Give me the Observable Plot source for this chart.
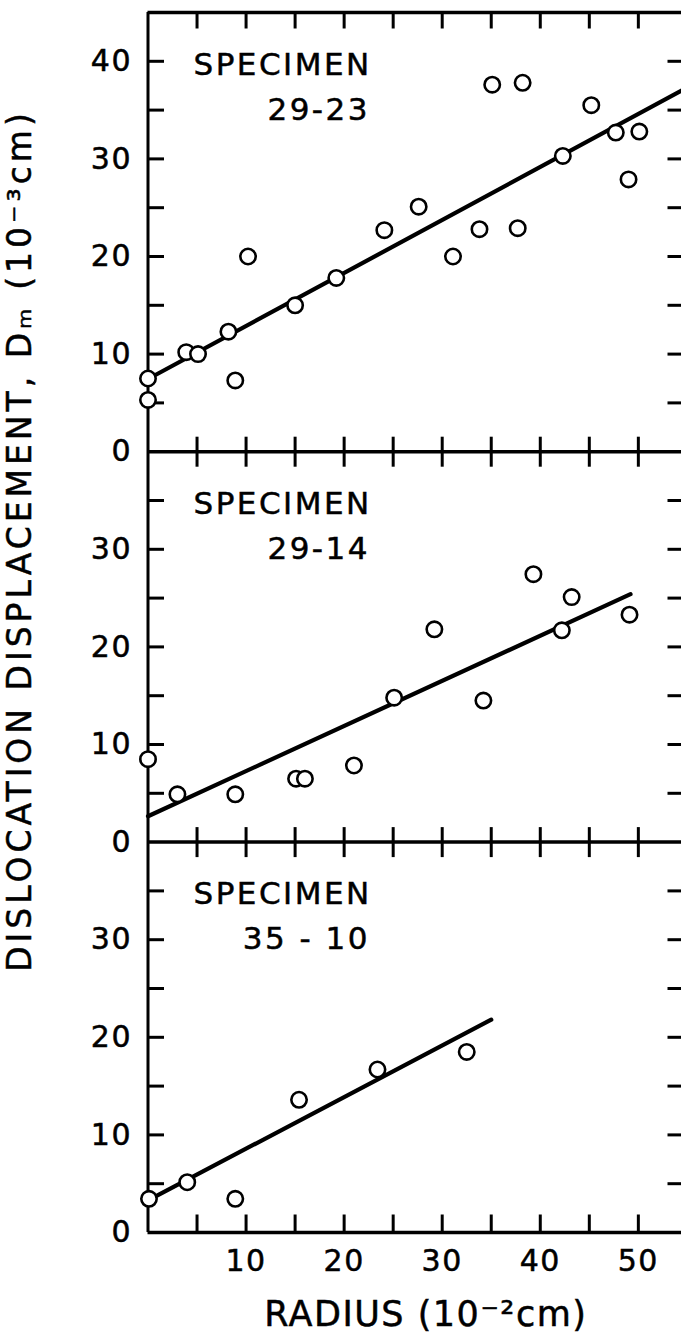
<!DOCTYPE html>
<html><head><meta charset="utf-8">
<script src="https://cdn.jsdelivr.net/npm/d3@7"></script>
<script src="https://cdn.jsdelivr.net/npm/@observablehq/plot@0.6"></script>
<style>
body{margin:0;background:#fff;}
#chart text{letter-spacing:1.5px;stroke:#000;stroke-width:0.5px;}
#chart g.spec text{letter-spacing:2.5px;}
#chart g.xtitle text{letter-spacing:1.5px;}
#chart g.ytitle text{letter-spacing:4px;}
</style></head><body><div id="chart"></div>
<script>
// ---- data ----
const specimens = ["29-23", "29-14", "35-10"];
const specimenLabels = ["29-23", "29-14", "35 - 10"];
const panelMax = [45, 40, 40];          // y-axis top of each panel (10^-3 cm)
const xTickLabels = [10, 20, 30, 40, 50];
const xTicks = [5, 10, 15, 20, 25, 30, 35, 40, 45, 50];
const yTickLabels = [0, 10, 20, 30, 40];
const xMax = 54.4;

// specimen 29-23
const radius2923 = [0, 0, 3.9, 5.1, 8.2, 8.9, 10.2, 15.0, 19.2, 24.1, 27.6, 31.1, 33.8, 35.1, 37.7, 38.2, 42.3, 45.2, 47.7, 49.0, 50.1];
const disp2923   = [7.5, 5.3, 10.2, 10.0, 12.3, 7.3, 20.0, 15.0, 17.8, 22.7, 25.1, 20.0, 22.8, 37.6, 22.9, 37.8, 30.3, 35.5, 32.7, 27.9, 32.8];
const fitRadius2923 = [0, 54.4];
const fitDisp2923   = [7.45, 37.0];
// specimen 29-14
const radius2914 = [0, 3.0, 8.9, 15.1, 16.0, 21.0, 25.1, 29.2, 34.2, 39.3, 42.2, 43.2, 49.1];
const disp2914   = [8.5, 4.9, 4.9, 6.5, 6.5, 7.85, 14.8, 21.8, 14.5, 27.45, 21.7, 25.1, 23.3];
const fitRadius2914 = [0, 49.2];
const fitDisp2914   = [2.65, 25.4];
// specimen 35-10
const radius3510 = [0.1, 4.0, 8.9, 15.4, 23.4, 32.5];
const disp3510   = [3.45, 5.15, 3.45, 13.6, 16.7, 18.5];
const fitRadius3510 = [0, 35];
const fitDisp3510   = [3.3, 21.8];

const xTitle = "RADIUS (10\u207B\u00B2cm)";
const yTitle = "DISLOCATION DISPLACEMENT, D\u2098 (10\u207B\u00B3cm)";

// ---- build stacked panels (top panel first) ----
const radii = [radius2923, radius2914, radius3510];
const disps = [disp2923, disp2914, disp3510];
const fitR = [fitRadius2923, fitRadius2914, fitRadius3510];
const fitD = [fitDisp2923, fitDisp2914, fitDisp3510];
const base = [];
{ let acc = 0; for (let i = specimens.length - 1; i >= 0; --i) { base[i] = acc; acc += panelMax[i]; } }
const total = base[0] + panelMax[0];

const points = specimens.flatMap((s, i) => radii[i].map((r, j) => ({specimen: s, r, y: disps[i][j] + base[i]})));
const fits = specimens.flatMap((s, i) => fitR[i].map((r, j) => ({specimen: s, r, y: fitD[i][j] + base[i]})));
const panels = specimens.map((s, i) => ({label: specimenLabels[i], top: base[i] + panelMax[i], base: base[i]}));

const yLabelMap = new Map();
specimens.forEach((s, i) => yTickLabels.filter(v => v < panelMax[i]).forEach(v => yLabelMap.set(v + base[i], v)));
const yMinor = specimens.flatMap((s, i) => d3.range(5, panelMax[i], 5).map(v => v + base[i]));
const separators = base.filter(b => b > 0);

const line = {draw(ctx, l) { ctx.moveTo(0, 0); ctx.lineTo(0, -l); }};
const tk = {stroke: "black", strokeWidth: 3, shape: line, strokeLinecap: "butt"};

const chart = Plot.plot({
  width: 681, height: 1335,
  marginLeft: 147.5, marginRight: 0, marginTop: 12, marginBottom: 103,
  x: {domain: [0, xMax]},
  y: {domain: [0, total]},
  style: {fontFamily: "DejaVu Sans", color: "black", background: "white"},
  marks: [
    Plot.ruleY([0, ...separators, total], {strokeWidth: 3.5}),
    Plot.ruleX([0], {strokeWidth: 3}),
    // x tick marks
    Plot.vector(xTicks, {x: d => d, y: () => total, rotate: 180, anchor: "start", length: 16, ...tk}),
    ...separators.map(sv => Plot.vector(xTicks, {x: d => d, y: () => sv, rotate: 0, anchor: "middle", length: 30, ...tk})),
    Plot.vector(xTicks, {x: d => d, y: () => 0, rotate: 0, anchor: "start", length: 18, ...tk}),
    // y tick marks (left and right, inward)
    Plot.vector(yMinor, {x: () => 0, y: d => d, rotate: 90, anchor: "start", length: 16, ...tk}),
    Plot.vector(yMinor, {x: () => xMax, y: d => d, rotate: -90, anchor: "start", length: 14, ...tk}),
    // tick labels
    Plot.axisY([...yLabelMap.keys()], {anchor: "left", tickSize: 0, tickPadding: 16, fontSize: 30, tickFormat: v => yLabelMap.get(v), label: null}),
    Plot.axisX(xTickLabels, {anchor: "bottom", tickSize: 0, tickPadding: 17, fontSize: 30, label: null}),
    // fitted lines and data
    Plot.line(fits, {x: "r", y: "y", z: "specimen", stroke: "black", strokeWidth: 4.2}),
    Plot.dot(points, {x: "r", y: "y", r: 7.7, fill: "white", stroke: "black", strokeWidth: 2.6}),
    // specimen labels
    Plot.text(panels, {x: () => 0, y: "top", text: () => "SPECIMEN", dx: 45.5, dy: 62, textAnchor: "start", lineAnchor: "bottom", fontSize: 31, className: "spec"}),
    Plot.text(panels, {x: () => 0, y: "top", text: "label", dx: 222, dy: 107, textAnchor: "end", lineAnchor: "bottom", fontSize: 31, className: "spec"}),
    // axis titles
    Plot.text([xTitle], {frameAnchor: "bottom", dx: 11, dy: 93, lineAnchor: "bottom", fontSize: 35, className: "xtitle"}),
    Plot.text([yTitle], {frameAnchor: "left", rotate: -90, dx: -117.5, dy: -82, textAnchor: "middle", lineAnchor: "bottom", fontSize: 33, className: "ytitle"})
  ]
});
document.getElementById("chart").append(chart);
</script></body></html>
